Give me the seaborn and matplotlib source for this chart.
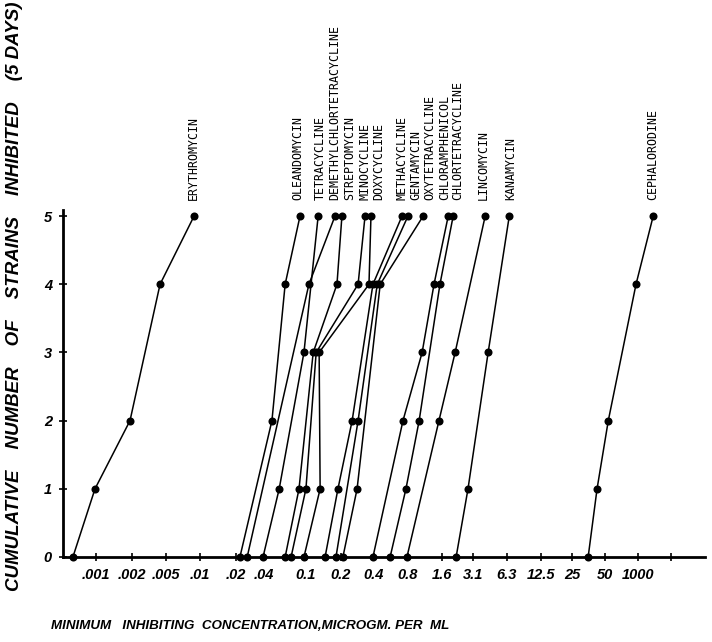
import matplotlib
matplotlib.use("Agg")
import matplotlib.pyplot as plt
import pandas as pd
import seaborn as sns

# Concentration scale: one step is roughly one twofold dilution
tick_labels = [".001", ".002", ".005", ".01", ".02", ".04", "0.1", "0.2", "0.4",
               "0.8", "1.6", "3.1", "6.3", "12.5", "25", "50", "1000", ""]
tick_pos = [1.00, 2.09, 3.12, 4.15, 5.24, 6.09, 7.36, 8.42, 9.42,
            10.45, 11.48, 12.42, 13.45, 14.48, 15.42, 16.42, 17.42, 18.42]

# Each drug: positions on the concentration scale and cumulative strains inhibited
erythromycin_x = [0.30, 0.97, 2.03, 2.94, 3.97]
erythromycin_n = [0, 1, 2, 4, 5]
oleandomycin_x = [5.36, 6.33, 6.73, 7.18]
oleandomycin_n = [0, 2, 4, 5]
tetracycline_x = [6.06, 6.55, 7.30, 7.73]
tetracycline_n = [0, 1, 3, 5]
demethyl_x = [5.58, 7.45, 8.24]
demethyl_n = [0, 4, 5]
streptomycin_x = [6.73, 7.15, 7.58, 8.30, 8.45]
streptomycin_n = [0, 1, 3, 4, 5]
minocycline_x = [6.91, 7.36, 7.67, 8.94, 9.15]
minocycline_n = [0, 1, 3, 4, 5]
doxycycline_x = [7.30, 7.79, 7.76, 9.27, 9.33]
doxycycline_n = [0, 1, 3, 4, 5]
methacycline_x = [7.94, 8.33, 8.76, 9.39, 10.27]
methacycline_n = [0, 1, 2, 4, 5]
gentamycin_x = [8.27, 8.94, 9.52, 10.45]
gentamycin_n = [0, 2, 4, 5]
oxytetracycline_x = [8.48, 8.91, 9.61, 10.91]
oxytetracycline_n = [0, 1, 4, 5]
chloramphenicol_x = [9.39, 10.30, 10.88, 11.24, 11.67]
chloramphenicol_n = [0, 2, 3, 4, 5]
chlortetracycline_x = [9.91, 10.39, 10.79, 11.42, 11.82]
chlortetracycline_n = [0, 1, 2, 4, 5]
lincomycin_x = [10.42, 11.39, 11.88, 12.79]
lincomycin_n = [0, 2, 3, 5]
kanamycin_x = [11.91, 12.27, 12.88, 13.52]
kanamycin_n = [0, 1, 3, 5]
cephalorodine_x = [15.91, 16.18, 16.52, 17.36, 17.88]
cephalorodine_n = [0, 1, 2, 4, 5]

drug_names = ["ERYTHROMYCIN", "OLEANDOMYCIN", "TETRACYCLINE",
              "DEMETHYLCHLORTETRACYCLINE", "STREPTOMYCIN", "MINOCYCLINE",
              "DOXYCYCLINE", "METHACYCLINE", "GENTAMYCIN", "OXYTETRACYCLINE",
              "CHLORAMPHENICOL", "CHLORTETRACYCLINE", "LINCOMYCIN", "KANAMYCIN",
              "CEPHALORODINE"]
# Where each name sits along the top of the plot
label_pos = [3.94, 7.12, 7.79, 8.24, 8.70, 9.15, 9.58, 10.27, 10.70, 11.12,
             11.58, 11.97, 12.73, 13.55, 17.88]

series_x = [erythromycin_x, oleandomycin_x, tetracycline_x, demethyl_x,
            streptomycin_x, minocycline_x, doxycycline_x, methacycline_x,
            gentamycin_x, oxytetracycline_x, chloramphenicol_x,
            chlortetracycline_x, lincomycin_x, kanamycin_x, cephalorodine_x]
series_n = [erythromycin_n, oleandomycin_n, tetracycline_n, demethyl_n,
            streptomycin_n, minocycline_n, doxycycline_n, methacycline_n,
            gentamycin_n, oxytetracycline_n, chloramphenicol_n,
            chlortetracycline_n, lincomycin_n, kanamycin_n, cephalorodine_n]

rows = []
for name, xs, ns in zip(drug_names, series_x, series_n):
    for order, (x, n) in enumerate(zip(xs, ns)):
        rows.append({"drug": name, "order": order, "conc": x, "strains": n})
df = pd.DataFrame(rows)

sns.set_theme(style="white")
bold_family = ["Liberation Sans", "DejaVu Sans"]
plt.rcParams["font.family"] = bold_family

fig = plt.figure(figsize=(7.12, 6.42), dpi=100)
ax = fig.add_axes([63 / 712, 85 / 642, 642 / 712, 347 / 642])

sns.lineplot(data=df, x="conc", y="strains", hue="drug",
             estimator=None, sort=False, palette=["black"] * len(drug_names),
             marker="o", markersize=5.8, markeredgewidth=0, linewidth=1.1,
             legend=False, ax=ax, clip_on=False)

ax.set_xlim(0, 19.45)
ax.set_ylim(0, 5.09)

for side in ("top", "right"):
    ax.spines[side].set_visible(False)
for side in ("left", "bottom"):
    ax.spines[side].set_linewidth(2.0)
    ax.spines[side].set_color("black")

tick_font = dict(family=bold_family, weight="bold", style="italic", size=10.5)
ax.set_xticks(tick_pos)
ax.set_xticklabels(tick_labels, fontdict=tick_font)
ax.set_yticks(range(6))
ax.set_yticklabels([str(v) for v in range(6)], fontdict=tick_font)
ax.tick_params(axis="both", direction="inout", length=6, width=1.2,
               colors="black", pad=5, left=True, bottom=True)
ax.set_xlabel("")
ax.set_ylabel("")

# Drug names, vertical, above the curves
for name, xp in zip(drug_names, label_pos):
    ax.text(xp, 5.235, name, rotation=90, ha="center", va="bottom",
            family=["DejaVu Sans Mono"], size=8.4, color="black", clip_on=False)

label_font = dict(family=bold_family, weight="bold", style="italic", color="black")
fig.text(15 / 712, 1 - 296 / 642,
         "CUMULATIVE    NUMBER    OF    STRAINS    INHIBITED    (5 DAYS)",
         rotation=90, ha="center", va="center", size=13.5, **label_font)
fig.text(250 / 712, 1 - 626 / 642,
         "MINIMUM   INHIBITING  CONCENTRATION,MICROGM. PER  ML",
         ha="center", va="center", size=9.6, **label_font)

fig.savefig("out.png", dpi=100, facecolor="white")
